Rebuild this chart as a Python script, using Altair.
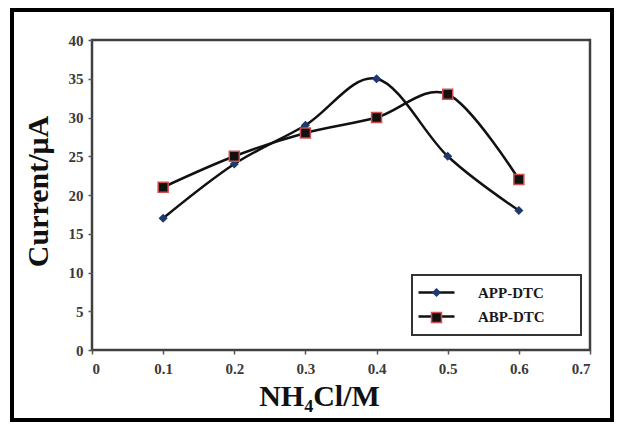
import altair as alt
import pandas as pd

# ---- data ----
x_vals = [0.1, 0.2, 0.3, 0.4, 0.5, 0.6]
app_dtc = [17, 24, 29, 35, 25, 18]
abp_dtc = [21, 25, 28, 30, 33, 22]
series_names = ["APP-DTC", "ABP-DTC"]
series_codes = ["s1", "s2"]
x_ticks = [0, 0.1, 0.2, 0.3, 0.4, 0.5, 0.6, 0.7]
y_ticks = [0, 5, 10, 15, 20, 25, 30, 35, 40]

rows = []
for name, code, vals in zip(series_names, series_codes, [app_dtc, abp_dtc]):
    for xv, yv in zip(x_vals, vals):
        rows.append({"x": xv, "y": yv, "series": name, "code": code})
df = pd.DataFrame(rows)

SERIF = "Liberation Serif"
W, H = 498, 310

x_enc = alt.X(
    "x:Q",
    scale=alt.Scale(domain=[0, 0.7], nice=False, zero=True),
    axis=alt.Axis(
        values=x_ticks,
        labelExpr="datum.value == 0 ? '0' : format(datum.value, '.1f')",
        title="NH₄Cl/M",
        titleX=227,
        titleY=46,
        titleAlign="center",
        titleBaseline="middle",
        tickSize=4,
        labelPadding=7,
        labelOverlap=False,
    ),
)
y_enc = alt.Y(
    "y:Q",
    scale=alt.Scale(domain=[0, 40], nice=False),
    axis=alt.Axis(
        values=y_ticks,
        title="Current/μA",
        titleX=-54,
        titleY=151,
        titleAngle=-90,
        titleAlign="center",
        titleBaseline="middle",
        tickSize=4,
        labelPadding=5,
        labelOverlap=False,
    ),
)

lines = alt.Chart(df).mark_line(
    interpolate="cardinal", tension=0, strokeWidth=2.5
).encode(
    x=x_enc,
    y=y_enc,
    color=alt.Color(
        "series:N",
        scale=alt.Scale(domain=series_names, range=["#111111", "#111111"]),
        legend=alt.Legend(
            title=None,
            orient="none",
            legendX=320,
            legendY=235,
            symbolType="M-3.6,0H3.6",
            symbolSize=100,
            symbolStrokeWidth=2.5,
            symbolStrokeColor="#111111",
            symbolOffset=7,
            padding=10,
            labelOffset=34,
            rowPadding=8,
            labelFont=SERIF,
            labelFontWeight="bold",
            labelFontSize=15,
            labelColor="#1a1a1a",
            labelExpr="datum.label + '\u00a0\u00a0\u00a0\u00a0\u2800'",
            strokeColor="#333333",
            zindex=1,
        ),
    ),
)

diamond = "M0,-0.7L0.7,0L0,0.7L-0.7,0Z"
points = alt.Chart(df).mark_point(filled=True, size=100, strokeWidth=1.5, opacity=1).encode(
    x=x_enc,
    y=y_enc,
    shape=alt.Shape(
        "code:N",
        scale=alt.Scale(domain=series_codes, range=[diamond, "square"]),
        legend=alt.Legend(
            title=None,
            orient="none",
            legendX=320,
            legendY=235,
            symbolSize=100,
            symbolOffset=7,
            padding=10,
            labelOffset=34,
            rowPadding=8,
            labelFont=SERIF,
            labelFontWeight="bold",
            labelFontSize=15,
            labelExpr="'\u00a0'",
            zindex=2,
        ),
    ),
    fill=alt.Fill(
        "code:N",
        scale=alt.Scale(domain=series_codes, range=["#1f3a6e", "#111111"]),
        legend=None,
    ),
    stroke=alt.Stroke(
        "code:N",
        scale=alt.Scale(domain=series_codes, range=["#1f3a6e", "#d05050"]),
        legend=None,
    ),
)

frame = alt.Chart(alt.Data(values=[{"a": 1}])).mark_rect(
    fill="transparent", stroke="#000000", strokeWidth=4
).encode(
    x=alt.value(-80), x2=alt.value(520), y=alt.value(-30), y2=alt.value(380)
)

chart = alt.layer(lines, points, frame).properties(
    width=W,
    height=H,
    autosize=alt.AutoSizeParams(type="none"),
    padding={"left": 84, "top": 32, "right": 24, "bottom": 72},
).configure_view(
    stroke="#404040", strokeWidth=2.5
).configure_legend(
    strokeWidth=2
).configure_axis(
    grid=False,
    domain=False,
    tickColor="#555555",
    tickWidth=1.5,
    labelFont=SERIF,
    labelFontWeight="bold",
    labelFontSize=15,
    labelColor="#3a3a3a",
    titleFont=SERIF,
    titleFontWeight="bold",
    titleFontSize=30,
    titleColor="#111111",
)

chart.save("out.html", embed_options={"renderer": "svg", "actions": False})
